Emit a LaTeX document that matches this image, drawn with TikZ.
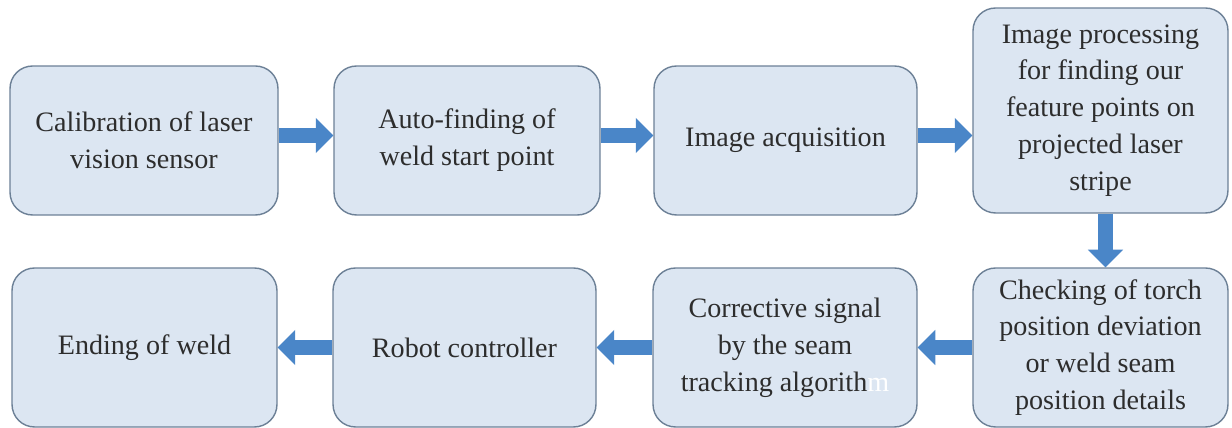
\documentclass[tikz,border=0pt]{standalone}
\usepackage{fontspec}
\setmainfont{Liberation Serif}
\usetikzlibrary{arrows.meta}

\definecolor{boxfill}{RGB}{220,230,242}
\definecolor{boxline}{RGB}{108,128,150}
\definecolor{arrowblue}{RGB}{74,134,200}
\definecolor{textgray}{RGB}{45,45,45}

\begin{document}
\begin{tikzpicture}[x=0.02cm, y=-0.02cm,
	procbox/.style={draw=boxline, line width=0.8pt, fill=boxfill, rounded corners=0.45cm,
		inner sep=0pt, align=center, text=textgray, font=\fontsize{16}{21}\selectfont},
	flowarrow/.style={draw=arrowblue, line width=8.5pt,
		-{Triangle[length=10pt, width=20pt, line width=0pt, fill=arrowblue]}}]
	\useasboundingbox (0,0) rectangle (1232,428);

	% top row
	\node [procbox, minimum width=5.36cm, minimum height=2.98cm] (calib) at (144,140.5) {Calibration of laser\\vision sensor};
	\node [procbox, minimum width=5.32cm, minimum height=2.98cm] (autofind) at (467,140.5) {Auto-finding of\\weld start point};
	\node [procbox, minimum width=5.26cm, minimum height=2.98cm] (acquire) at (785.5,140.5) {Image acquisition};
	\node [procbox, minimum width=5.10cm, minimum height=4.10cm] (imgproc) at (1100.5,110.5) {Image processing\\for finding our\\feature points on\\projected laser\\stripe};

	% bottom row
	\node [procbox, minimum width=5.10cm, minimum height=3.18cm] (check) at (1100.5,347.5) {Checking of torch\\position deviation\\or weld seam\\position details};
	\node [procbox, minimum width=5.28cm, minimum height=3.18cm] (correct) at (785,347.5) {Corrective signal\\by the seam\\tracking algorith\textcolor{white}{m}};
	\node [procbox, minimum width=5.26cm, minimum height=3.18cm] (robot) at (464.5,347.5) {Robot controller};
	\node [procbox, minimum width=5.30cm, minimum height=3.18cm] (ending) at (144.5,347.5) {Ending of weld};

	% arrows
	\draw [flowarrow] ([yshift=0.1cm]calib.east) -- ([yshift=0.1cm]autofind.west);
	\draw [flowarrow] ([yshift=0.1cm]autofind.east) -- ([yshift=0.1cm]acquire.west);
	\draw [flowarrow] ([yshift=0.1cm]acquire.east) -- ([yshift=0.1cm]acquire.east -| imgproc.west);
	\draw [flowarrow] ([xshift=0.1cm]imgproc.south) -- ([xshift=0.1cm]check.north);
	\draw [flowarrow] (check.west) -- (correct.east);
	\draw [flowarrow] (correct.west) -- (robot.east);
	\draw [flowarrow] (robot.west) -- (ending.east);
\end{tikzpicture}
\end{document}
